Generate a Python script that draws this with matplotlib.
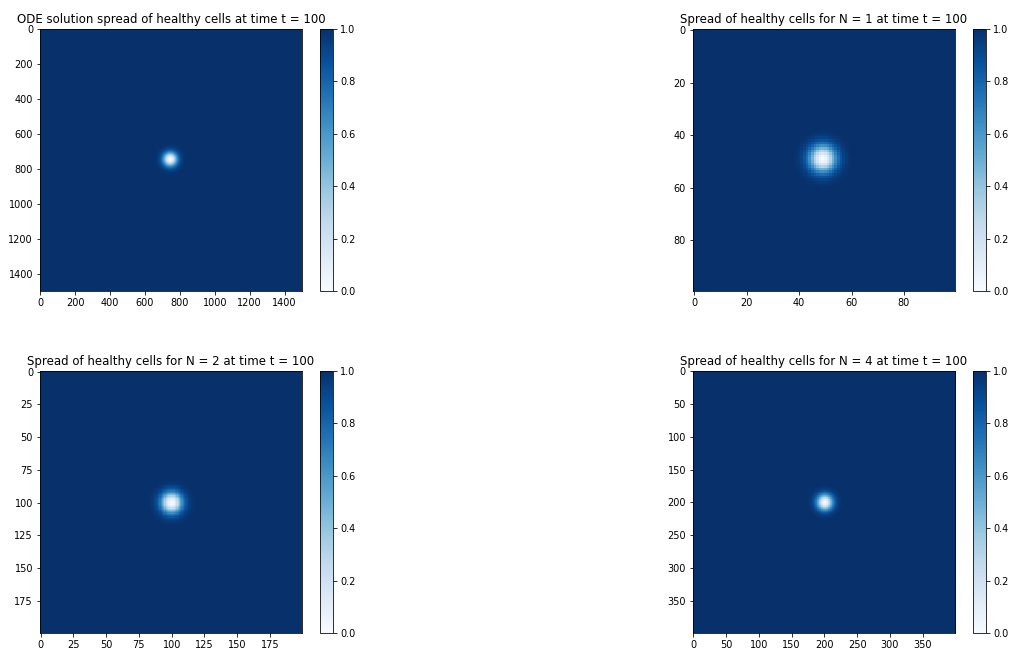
import numpy as np
import matplotlib
matplotlib.use("Agg")
import matplotlib.pyplot as plt

# grid sizes, spot centres and spot widths for each panel
titles = [
    "ODE solution spread of healthy cells at time t = 100",
    "Spread of healthy cells for N = 1 at time t = 100",
    "Spread of healthy cells for N = 2 at time t = 100",
    "Spread of healthy cells for N = 4 at time t = 100",
]
grid_sizes = [1500, 100, 200, 400]
centres = [745, 49, 100, 200]
spot_widths = [40, 5, 8, 12]
background = 1.0

plt.rcParams["font.size"] = 9.75


def healthy_field(n, c, w):
    y, x = np.mgrid[0:n, 0:n]
    r2 = (x - c) ** 2 + (y - c) ** 2
    return background * (1 - np.exp(-r2 / w ** 2))


dpi = 72
fig = plt.figure(figsize=(1015 / dpi, 651 / dpi), dpi=dpi)

W, H = 1015, 651
img_pos = [(40, 29), (693, 29), (40, 371), (693, 371)]
cbar_x = [320, 973, 320, 973]
size = 262

for i in range(4):
    x0, y0 = img_pos[i]
    ax = fig.add_axes([x0 / W, 1 - (y0 + size) / H, size / W, size / H])
    field = healthy_field(grid_sizes[i], centres[i], spot_widths[i])
    im = ax.imshow(field, cmap="Blues", vmin=0, vmax=1, interpolation="nearest")
    ax.set_title(titles[i])
    cax = fig.add_axes([cbar_x[i] / W, 1 - (y0 + size) / H, 13 / W, size / H])
    fig.colorbar(im, cax=cax)

fig.savefig("out.png", dpi=dpi)
